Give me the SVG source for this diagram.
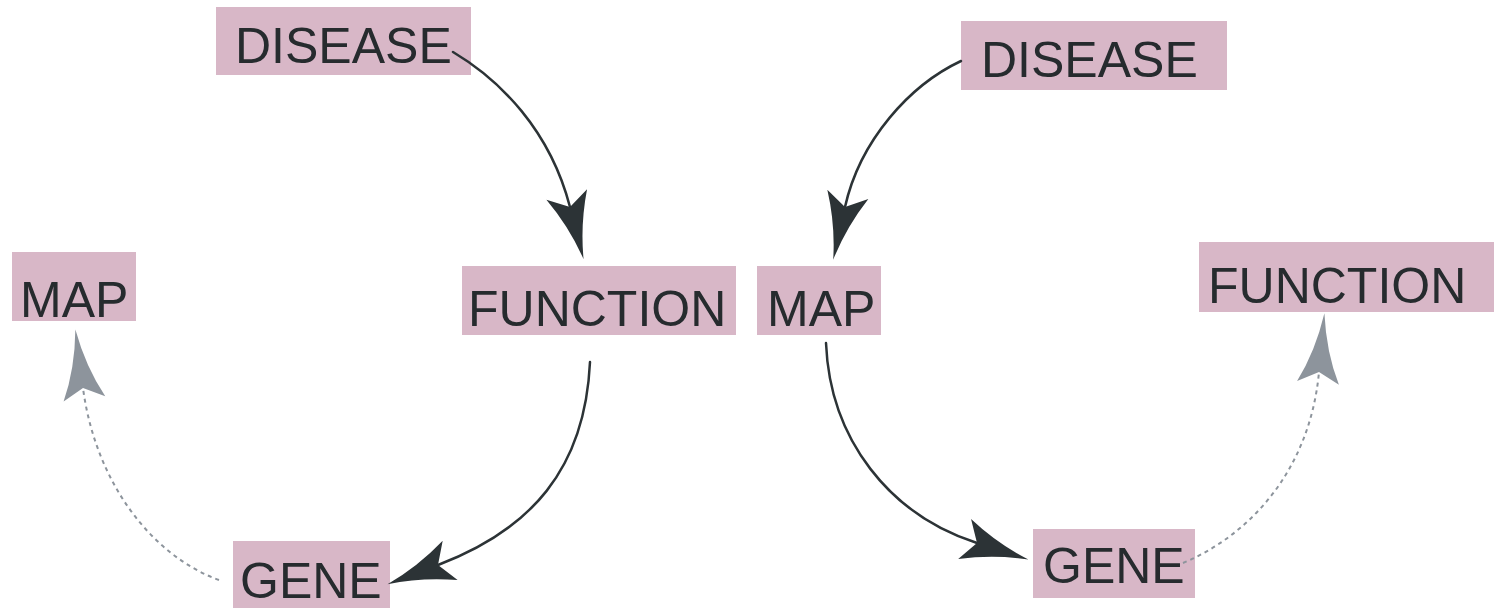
<svg xmlns="http://www.w3.org/2000/svg" width="1494" height="608" viewBox="0 0 1494 608">
  <style>
    .box { fill: #d8b7c7; }
    .label { font-family: "Liberation Sans", Arial, sans-serif; font-size: 50px; fill: #262b2e; }
    .solid { fill: none; stroke: #2c3336; stroke-width: 2.5; stroke-linecap: round; }
    .dashed { fill: none; stroke: #8d949c; stroke-width: 2; stroke-dasharray: 4 4; }
  </style>
  <defs>
    <!-- stealth arrowheads; origin sits at the notch, tip points along +x -->
    <marker id="arrow-dark" viewBox="-20 -25 80 50" markerWidth="80" markerHeight="50" refX="0" refY="0" orient="auto" markerUnits="userSpaceOnUse" overflow="visible">
      <path d="M54,0 Q19.5,5.5 -13,21 L0,0 L-13,-21 Q19.5,-5.5 54,0 Z" fill="#2c3336"/>
    </marker>
    <marker id="arrow-grey" viewBox="-20 -25 85 50" markerWidth="85" markerHeight="50" refX="0" refY="0" orient="auto" markerUnits="userSpaceOnUse" overflow="visible">
      <path d="M59,0 Q20,5.5 -11,21 L0,0 L-11,-21 Q20,-5.5 59,0 Z" fill="#8d949c"/>
    </marker>
  </defs>

  <!-- left cycle -->
  <g id="disease-left">
    <rect class="box" x="216" y="7" width="255" height="68"/>
    <text class="label" x="235" y="63">DISEASE</text>
  </g>
  <g id="function-left">
    <rect class="box" x="462" y="266" width="274" height="69"/>
    <text class="label" x="468" y="326">FUNCTION</text>
  </g>
  <g id="gene-left">
    <rect class="box" x="233" y="541" width="157" height="67"/>
    <text class="label" x="240" y="598">GENE</text>
  </g>
  <g id="map-left">
    <rect class="box" x="12" y="252" width="124" height="69"/>
    <text class="label" x="20" y="317">MAP</text>
  </g>

  <!-- right cycle -->
  <g id="disease-right">
    <rect class="box" x="961" y="21" width="266" height="69"/>
    <text class="label" x="981" y="77">DISEASE</text>
  </g>
  <g id="map-right">
    <rect class="box" x="757" y="266" width="124" height="69"/>
    <text class="label" x="767" y="326">MAP</text>
  </g>
  <g id="gene-right">
    <rect class="box" x="1033" y="529" width="162" height="69"/>
    <text class="label" x="1043" y="583">GENE</text>
  </g>
  <g id="function-right">
    <rect class="box" x="1199" y="242" width="295" height="70"/>
    <text class="label" x="1208" y="303">FUNCTION</text>
  </g>

  <g id="connectors">
    <path class="solid" d="M453,52 C500,80 550,130 570,207" marker-end="url(#arrow-dark)"/>
    <path class="solid" d="M590,362 C585,470 530,530 438,565" marker-end="url(#arrow-dark)"/>
    <path class="dashed" d="M219,580 C150,555 95,480 83,388" marker-end="url(#arrow-grey)"/>
    <path class="solid" d="M961,61 C910,85 860,140 845,207" marker-end="url(#arrow-dark)"/>
    <path class="solid" d="M826,343 C830,440 890,515 977,543" marker-end="url(#arrow-dark)"/>
    <path class="dashed" d="M1183,563 C1250,535 1310,470 1319,372" marker-end="url(#arrow-grey)"/>
  </g>
</svg>
